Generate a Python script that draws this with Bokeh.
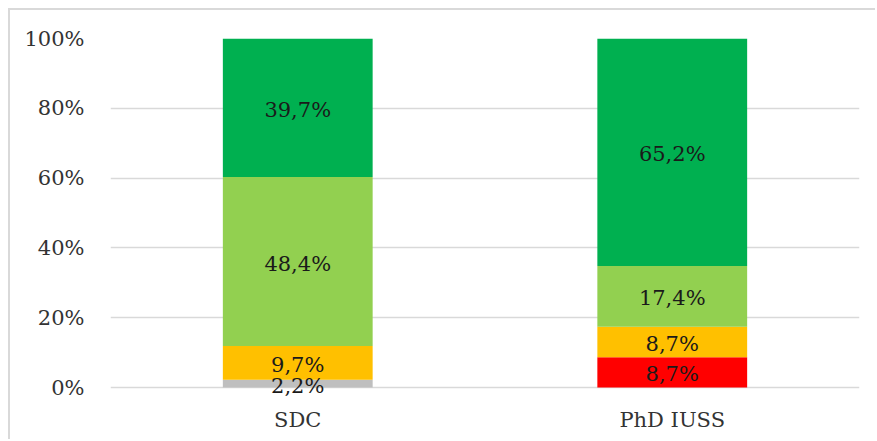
from bokeh.plotting import figure
from bokeh.models import Range1d, FactorRange, ColumnDataSource, NumeralTickFormatter, FixedTicker, LabelSet
from bokeh.core.properties import value
from bokeh.embed import file_html
from bokeh.resources import INLINE

categories = ["SDC", "PhD IUSS"]
series = ["grey", "red", "yellow", "lightgreen", "darkgreen"]
grey = [2.2, 0.0]
red = [0.0, 8.7]
yellow = [9.7, 8.7]
lightgreen = [48.4, 17.4]
darkgreen = [39.7, 65.2]
colors = ["#BFBFBF", "#FF0000", "#FFC000", "#92D050", "#00B050"]
y_ticks = [0, 0.2, 0.4, 0.6, 0.8, 1.0]

FONT = "DejaVu Serif"

values = {"grey": grey, "red": red, "yellow": yellow, "lightgreen": lightgreen, "darkgreen": darkgreen}
data = {"cat": categories}
for s in series:
    data[s] = [v / 100 for v in values[s]]
src = ColumnDataSource(data)

# y range starts slightly below 0 so the lowest data label is not clipped
p = figure(x_range=FactorRange(*categories, range_padding=0), y_range=Range1d(-0.04, 1),
           width=867, height=431, output_backend="svg", toolbar_location=None,
           min_border_left=100, min_border_right=18, min_border_top=28, min_border_bottom=40)
p.styles = {"border-left": "2px solid #d9d9d9", "border-top": "2px solid #d9d9d9",
            "margin-left": "8px", "margin-top": "8px"}
p.outline_line_color = None
p.background_fill_color = "white"

p.vbar_stack(series, x="cat", width=0.4, color=colors, source=src, line_color=None)

# data labels
lx, ly, lt = [], [], []
for i, c in enumerate(categories):
    base = 0.0
    for s in series:
        v = values[s][i]
        if v > 0:
            lx.append(c)
            ly.append((base + v / 2) / 100)
            lt.append(f"{v:.1f}".replace(".", ",") + "%")
        base += v
lsrc = ColumnDataSource(dict(x=lx, y=ly, t=lt))
labels = LabelSet(x="x", y="y", text="t", source=lsrc, text_align="center", text_baseline="middle",
                  text_font=value(FONT), text_font_size="21px", text_color="#1a1a1a", y_offset=-2)
p.add_layout(labels)

p.yaxis.ticker = FixedTicker(ticks=y_ticks)
p.yaxis.formatter = NumeralTickFormatter(format="0%")
for ax in (p.xaxis[0], p.yaxis[0]):
    ax.axis_line_color = None
    ax.major_tick_line_color = None
    ax.minor_tick_line_color = None
    ax.major_label_text_font = FONT
    ax.major_label_text_font_size = "21px"
    ax.major_label_text_color = "#333333"
p.yaxis.major_label_standoff = 20
p.xaxis.major_label_standoff = 0

p.xgrid.grid_line_color = None
p.ygrid.grid_line_color = "#d9d9d9"
p.ygrid.grid_line_width = 1.5
p.ygrid.ticker = FixedTicker(ticks=y_ticks)
p.ygrid.level = "underlay"

open("out.html", "w").write(file_html(p, INLINE))
